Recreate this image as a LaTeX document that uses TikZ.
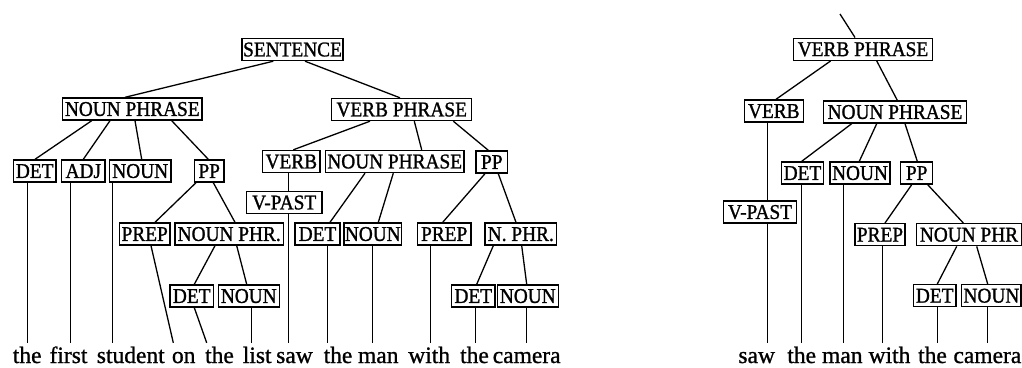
\documentclass[tikz,border=0pt]{standalone}
\usepackage{fontspec}
\setmainfont{Liberation Serif}
\newfontfamily\boxfamily[FakeStretch=0.92,FakeBold=1.2]{Liberation Serif}
\newfontfamily\wordfamily[FakeBold=1.0]{Liberation Serif}
\newcommand{\catfont}{\boxfamily\fontsize{21}{23}\selectfont}
\newcommand{\wordfont}{\wordfamily\fontsize{23.5}{26}\selectfont}
\tikzset{
  cat/.style={draw, line width=1.4pt, inner sep=0pt, minimum height=22pt,
    text height=13.8pt, text depth=0pt, font=\catfont},
  word/.style={anchor=base, inner sep=0pt, text height=20pt, text depth=0pt, font=\wordfont},
  branch/.style={line width=1.3pt}
}
\begin{document}
\begin{tikzpicture}[x=1pt, y=-1pt]
\useasboundingbox (0,0) rectangle (1022,367);

% ---------- full sentence tree ----------
\node[cat, minimum width=101pt]   (s)    at (292.5,49.5) {SENTENCE};
\node[cat, minimum width=139.3pt] (npl)  at (132.3,109)  {NOUN PHRASE};
\node[cat, minimum width=140pt]   (vpl)  at (401.7,109.5){VERB PHRASE};
\node[cat, minimum width=42.7pt]  (det1) at (34.7,171)   {DET};
\node[cat, minimum width=43.3pt]  (adj)  at (83.3,171)   {ADJ};
\node[cat, minimum width=61.7pt]  (n1)   at (140.2,171)  {NOUN};
\node[cat, minimum width=29.7pt]  (pp1)  at (209.2,171)  {PP};
\node[cat, minimum width=57.3pt]  (v1)   at (291.3,161.5){VERB};
\node[cat, minimum width=138.5pt] (np2)  at (394.7,161.5){NOUN PHRASE};
\node[cat, minimum width=31.7pt]  (pp2)  at (491.8,162)  {PP};
\node[cat, minimum width=75.5pt]  (vp1)  at (284.2,202.5){V-PAST};
\node[cat, minimum width=50.7pt]  (pr1)  at (144.7,234)  {PREP};
\node[cat, minimum width=108.3pt] (nph1) at (229.2,234)  {NOUN PHR.};
\node[cat, minimum width=45pt]    (det2) at (317.5,234)  {DET};
\node[cat, minimum width=57.7pt]  (n2)   at (372.8,234)  {NOUN};
\node[cat, minimum width=53.7pt]  (pr2)  at (444.2,234)  {PREP};
\node[cat, minimum width=71.7pt]  (nph2) at (520.8,234)  {N. PHR.};
\node[cat, minimum width=43.3pt]  (det3) at (191.7,296)  {DET};
\node[cat, minimum width=61pt]    (n3)   at (248.8,296)  {NOUN};
\node[cat, minimum width=43.3pt]  (det4) at (473.3,296)  {DET};
\node[cat, minimum width=61pt]    (n4)   at (527.8,296)  {NOUN};

\node[word] (w1)  at (27.2,363)  {the};
\node[word] (w2)  at (68.5,363)  {first};
\node[word] (w3)  at (130.8,363) {student};
\node[word] (w4)  at (183.7,363) {on};
\node[word] (w5)  at (219.5,363) {the};
\node[word] (w6)  at (257.2,363) {list};
\node[word] (w7)  at (294.5,363) {saw};
\node[word] (w8)  at (338,363)   {the};
\node[word] (w9)  at (378.3,363) {man};
\node[word] (w10) at (429.2,363) {with};
\node[word] (w11) at (474.5,363) {the};
\node[word] (w12) at (526.7,363) {camera};

\begin{scope}[branch]
\draw (s.south -| 273.3,0) -- (npl.north -| 125,0);
\draw (s.south -| 305,0)   -- (vpl.north -| 400,0);
\draw (npl.south -| 91.7,0)  -- (det1.north -| 35,0);
\draw (npl.south -| 110,0)   -- (adj.north -| 83.3,0);
\draw (npl.south -| 135,0)   -- (n1.north -| 141.7,0);
\draw (npl.south -| 171.7,0) -- (pp1.north -| 208.3,0);
\draw (det1.south -| 27.5,0) -- (w1.north -| 27.5,0);
\draw (adj.south -| 70.5,0)  -- (w2.north -| 70.5,0);
\draw (n1.south -| 112.5,0)  -- (w3.north -| 112.5,0);
\draw (pp1.south -| 196,0)   -- (pr1.north -| 155,0);
\draw (pp1.south -| 213.3,0) -- (nph1.north -| 235,0);
\draw (pr1.south -| 151,0)   -- (w4.north -| 173.3,0);
\draw (nph1.south -| 215,0)  -- (det3.north -| 194.3,0);
\draw (nph1.south -| 236.7,0)-- (n3.north -| 246.7,0);
\draw (det3.south -| 194.3,0)-- (w5.north -| 206.7,0);
\draw (n3.south -| 251.5,0)  -- (w6.north -| 251.5,0);
\draw (vpl.south -| 370,0)   -- (v1.north -| 293.3,0);
\draw (vpl.south -| 414.3,0) -- (np2.north -| 421.7,0);
\draw (vpl.south -| 453.3,0) -- (pp2.north -| 488.3,0);
\draw (v1.south -| 288.5,0)  -- (vp1.north -| 288.5,0);
\draw (vp1.south -| 288.5,0) -- (w7.north -| 288.5,0);
\draw (np2.south -| 365,0)   -- (det2.north -| 330,0);
\draw (np2.south -| 393.3,0) -- (n2.north -| 378.3,0);
\draw (det2.south -| 327.5,0)-- (w8.north -| 327.5,0);
\draw (n2.south -| 372.5,0)  -- (w9.north -| 372.5,0);
\draw (pp2.south -| 485,0)   -- (pr2.north -| 442.7,0);
\draw (pp2.south -| 498.3,0) -- (nph2.north -| 516,0);
\draw (pr2.south -| 430.5,0) -- (w10.north -| 430.5,0);
\draw (nph2.south -| 493.3,0)-- (det4.north -| 476.7,0);
\draw (nph2.south -| 521.7,0)-- (n4.north -| 526.7,0);
\draw (det4.south -| 475.5,0)-- (w11.north -| 475.5,0);
\draw (n4.south -| 526.5,0)  -- (w12.north -| 526.5,0);
\end{scope}

% ---------- verb phrase subtree ----------
\coordinate (up) at (840,14);
\node[cat, minimum width=139.4pt] (rvp)   at (863,49.2)   {VERB PHRASE};
\node[cat, minimum width=59pt]    (rv)    at (773.8,111)  {VERB};
\node[cat, minimum width=143.4pt] (rnp)   at (895,112)    {NOUN PHRASE};
\node[cat, minimum width=41.6pt]  (rdet)  at (802.5,173)  {DET};
\node[cat, minimum width=60pt]    (rn)    at (860,173)    {NOUN};
\node[cat, minimum width=32pt]    (rpp)   at (916.7,173)  {PP};
\node[cat, minimum width=73.4pt]  (rvpast)at (760,212)    {V-PAST};
\node[cat, minimum width=50pt]    (rpr)   at (880,234.7)  {PREP};
\node[cat, minimum width=105pt]   (rnph)  at (969,234.7)  {NOUN PHR};
\node[cat, minimum width=42.7pt]  (rdet2) at (934.7,295.7){DET};
\node[cat, minimum width=59.5pt]  (rn2)   at (991.4,295.7){NOUN};

\node[word] (r1) at (756.7,363) {saw};
\node[word] (r2) at (801.7,363) {the};
\node[word] (r3) at (842.3,363) {man};
\node[word] (r4) at (889.5,363) {with};
\node[word] (r5) at (932.5,363) {the};
\node[word, anchor=base east] (r6) at (1021.5,363) {camera};

\begin{scope}[branch]
\draw (up) -- (rvp.north -| 855,0);
\draw (rvp.south -| 830.7,0) -- (rv.north -| 776,0);
\draw (rvp.south -| 876.7,0) -- (rnp.north -| 897.3,0);
\draw (rv.south -| 767.5,0)  -- (rvpast.north -| 767.5,0);
\draw (rvpast.south -| 767.5,0)-- (r1.north -| 767.5,0);
\draw (rnp.south -| 851.7,0) -- (rdet.north -| 801.7,0);
\draw (rnp.south -| 876.7,0) -- (rn.north -| 859.3,0);
\draw (rnp.south -| 905,0)   -- (rpp.north -| 917.3,0);
\draw (rdet.south -| 801.5,0)-- (r2.north -| 801.5,0);
\draw (rn.south -| 843.5,0)  -- (r3.north -| 843.5,0);
\draw (rpp.south -| 911.7,0) -- (rpr.north -| 885,0);
\draw (rpp.south -| 927.7,0) -- (rnph.north -| 963.3,0);
\draw (rpr.south -| 882.5,0) -- (r4.north -| 882.5,0);
\draw (rnph.south -| 956.7,0)-- (rdet2.north -| 937.3,0);
\draw (rnph.south -| 976.7,0)-- (rn2.north -| 987.7,0);
\draw (rdet2.south -| 937.5,0)-- (r5.north -| 937.5,0);
\draw (rn2.south -| 987.5,0) -- (r6.north -| 987.5,0);
\end{scope}
\end{tikzpicture}
\end{document}
